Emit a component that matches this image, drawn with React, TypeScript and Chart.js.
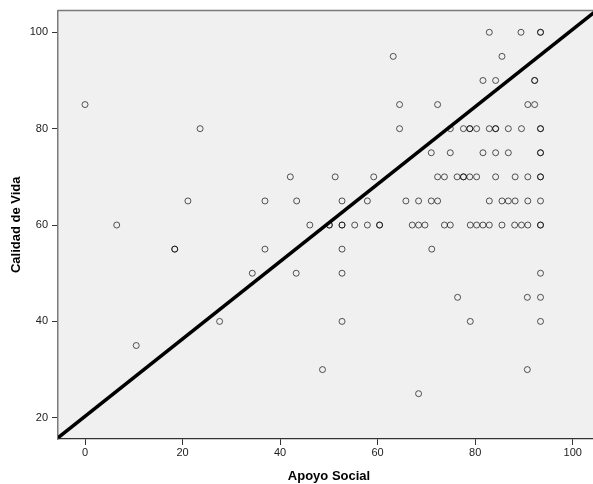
import React, { useEffect, useRef } from "react";
import { Chart, registerables } from "chart.js";

Chart.register(...registerables);

// Apoyo Social (x) and Calidad de Vida (y), grouped by row of y value
const apoyoSocial: number[] = [
  // y = 100
  82.9, 89.4, 93.4, 93.4,
  // y = 95
  63.2, 85.5,
  // y = 90
  81.6, 84.2, 92.2, 92.2,
  // y = 85
  0.0, 64.5, 72.3, 90.8, 92.2,
  // y = 80
  23.6, 64.5, 74.9, 77.6, 78.9, 78.9, 80.3, 82.9, 84.2, 84.2, 86.8, 89.5, 93.4, 93.4,
  // y = 75
  71.0, 74.9, 81.6, 84.2, 86.8, 93.4, 93.4,
  // y = 70
  42.1, 51.3, 59.2, 72.3, 73.7, 76.3, 77.6, 77.6, 78.9, 80.3, 84.2, 88.2, 90.8, 93.4, 93.4,
  // y = 65
  21.1, 36.9, 43.4, 52.7, 57.9, 65.8, 68.4, 71.0, 72.3, 82.9, 85.5, 86.8, 88.2, 90.8, 93.4,
  // y = 60
  6.5, 46.1, 50.1, 50.1, 52.7, 52.7, 55.3, 57.9, 60.4, 60.4, 67.1, 68.4, 69.7, 73.7, 74.9,
  79.0, 80.3, 81.6, 82.9, 85.5, 88.1, 89.5, 90.8, 93.4, 93.4,
  // y = 55
  18.4, 18.4, 36.9, 52.7, 71.1,
  // y = 50
  34.3, 43.3, 52.7, 93.4,
  // y = 45
  76.4, 90.7, 93.4,
  // y = 40
  27.6, 52.7, 79.0, 93.4,
  // y = 35
  10.5,
  // y = 30
  48.7, 90.7,
  // y = 25
  68.4,
];

const calidadDeVida: number[] = [
  100, 100, 100, 100,
  95, 95,
  90, 90, 90, 90,
  85, 85, 85, 85, 85,
  80, 80, 80, 80, 80, 80, 80, 80, 80, 80, 80, 80, 80, 80,
  75, 75, 75, 75, 75, 75, 75,
  70, 70, 70, 70, 70, 70, 70, 70, 70, 70, 70, 70, 70, 70, 70,
  65, 65, 65, 65, 65, 65, 65, 65, 65, 65, 65, 65, 65, 65, 65,
  60, 60, 60, 60, 60, 60, 60, 60, 60, 60, 60, 60, 60, 60, 60,
  60, 60, 60, 60, 60, 60, 60, 60, 60, 60,
  55, 55, 55, 55, 55,
  50, 50, 50, 50,
  45, 45, 45,
  40, 40, 40, 40,
  35,
  30, 30,
  25,
];

const xTicks: number[] = [0, 20, 40, 60, 80, 100];
const yTicks: number[] = [20, 40, 60, 80, 100];

const xMin = -5.54;
const xMax = 105.6;
const yMin = 15.6;
const yMax = 104.5;

// Reference line
const lineIntercept = 20.3;
const lineSlope = 0.803;

const FONT = '"Liberation Sans", Arial, sans-serif';

export default function App() {
  const canvasRef = useRef<HTMLCanvasElement | null>(null);

  useEffect(() => {
    const canvas = canvasRef.current;
    if (!canvas) return;

    const points = apoyoSocial.map((x, i) => ({ x, y: calidadDeVida[i] }));
    const lineData = [xMin, xMax].map((x) => ({ x, y: lineIntercept + lineSlope * x }));

    const areaPlugin = {
      id: "areaBg",
      beforeDraw(chart: any) {
        const { ctx, chartArea } = chart;
        ctx.save();
        ctx.fillStyle = "#f0f0f0";
        ctx.fillRect(chartArea.left, chartArea.top, chartArea.right - chartArea.left, chartArea.bottom - chartArea.top);
        ctx.restore();
      },
      afterDraw(chart: any) {
        const { ctx, chartArea } = chart;
        ctx.save();
        ctx.strokeStyle = "#7a7a7a";
        ctx.lineWidth = 1.5;
        ctx.beginPath();
        ctx.moveTo(chartArea.left, chartArea.top);
        ctx.lineTo(chartArea.right, chartArea.top);
        ctx.lineTo(chartArea.right, chartArea.bottom);
        ctx.stroke();
        ctx.restore();
      },
    };

    const chart = new Chart(canvas, {
      type: "scatter",
      data: {
        datasets: [
          {
            type: "line",
            label: "Línea",
            data: lineData,
            borderColor: "#000000",
            borderWidth: 3.5,
            pointRadius: 0,
            fill: false,
            order: 0,
          } as any,
          {
            type: "scatter",
            label: "Casos",
            data: points,
            pointRadius: 3,
            pointBorderWidth: 1,
            pointBackgroundColor: "rgba(0,0,0,0)",
            pointBorderColor: "rgba(0,0,0,0.65)",
            order: 1,
          } as any,
        ],
      },
      options: {
        animation: false,
        responsive: false,
        devicePixelRatio: 1,
        layout: { padding: { left: 0, top: 10, right: 20, bottom: 0 } },
        plugins: {
          legend: { display: false },
          tooltip: { enabled: false },
        },
        scales: {
          x: {
            type: "linear",
            min: xMin,
            max: xMax,
            afterBuildTicks: (scale: any) => {
              scale.ticks = xTicks.map((v) => ({ value: v }));
            },
            afterFit: (scale: any) => {
              scale.height = 45;
            },
            grid: {
              drawOnChartArea: false,
              drawTicks: true,
              tickLength: 6,
              tickColor: "#333333",
              tickWidth: 1,
            },
            border: { display: true, color: "#333333", width: 1.2 },
            ticks: {
              padding: 1,
              color: "#222222",
              font: { family: FONT, size: 11 },
              maxRotation: 0,
            },
            title: {
              display: true,
              text: "Apoyo Social",
              color: "#000000",
              font: { family: FONT, size: 13, weight: "bold" },
              padding: { top: 0, bottom: 0 },
            },
          },
          y: {
            type: "linear",
            min: yMin,
            max: yMax,
            afterBuildTicks: (scale: any) => {
              scale.ticks = yTicks.map((v) => ({ value: v }));
            },
            afterFit: (scale: any) => {
              scale.width = 58;
            },
            grid: {
              drawOnChartArea: false,
              drawTicks: true,
              tickLength: 6,
              tickColor: "#333333",
              tickWidth: 1,
            },
            border: { display: true, color: "#7a7a7a", width: 1.5 },
            ticks: {
              padding: 4,
              color: "#222222",
              font: { family: FONT, size: 11 },
            },
            title: {
              display: true,
              text: "Calidad de Vida",
              color: "#000000",
              font: { family: FONT, size: 13, weight: "bold" },
              padding: { top: 9, bottom: 0 },
            },
          },
        },
      },
      plugins: [areaPlugin],
    } as any);

    return () => {
      chart.destroy();
    };
  }, []);

  return (
    <div
      style={{
        position: "fixed",
        left: 0,
        top: 0,
        width: 593,
        height: 484,
        overflow: "hidden",
        background: "#ffffff",
      }}
    >
      <canvas ref={canvasRef} width={620} height={484} style={{ display: "block" }} />
    </div>
  );
}
